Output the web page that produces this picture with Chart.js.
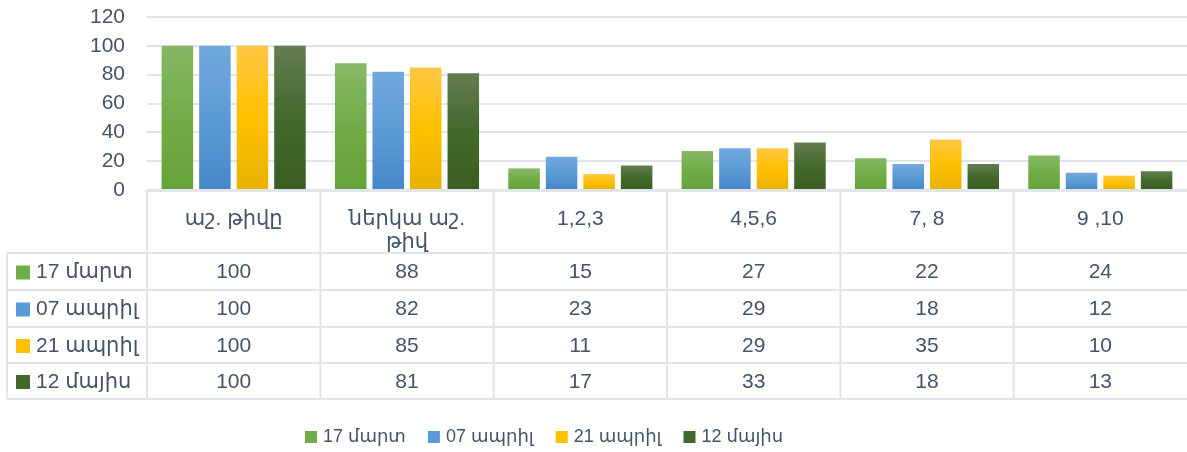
<!DOCTYPE html>
<html>
<head>
<meta charset="utf-8">
<script src="https://cdn.jsdelivr.net/npm/chart.js@4.4.1/dist/chart.umd.min.js"></script>
<style>
  html, body { margin: 0; padding: 0; background: #fff; }
  #wrap { width: 1187px; height: 452px; position: relative; }
</style>
</head>
<body>
<div id="wrap"><canvas id="chart"></canvas></div>
<script>
// categories (header row of the data table)
const categories = [['աշ. թիվը'], ['ներկա աշ.', 'թիվ'], ['1,2,3'], ['4,5,6'], ['7, 8'], ['9 ,10']];
const seriesNames = ['17 մարտ', '07 ապրիլ', '21 ապրիլ', '12 մայիս'];
const mart17 = [100, 88, 15, 27, 22, 24];
const april07 = [100, 82, 23, 29, 18, 12];
const april21 = [100, 85, 11, 29, 35, 10];
const may12 = [100, 81, 17, 33, 18, 13];
const yTicks = [0, 20, 40, 60, 80, 100, 120];

const textColor = '#44546A';
const lineColor = '#E1E4E9';
const fontFamily = '"Liberation Sans", "DejaVu Sans", sans-serif';

// top, middle, bottom of each bar gradient
const palette = [
  ['#86B866', '#70AD47', '#64A23A'],
  ['#72A8DD', '#5B9BD5', '#4687C9'],
  ['#FFC743', '#FFC000', '#E8B200'],
  ['#637D50', '#43682B', '#3A5E21']
];

function barFill(i) {
  return (ctx) => {
    const chart = ctx.chart;
    const area = chart.chartArea;
    if (!area || ctx.raw === undefined) return palette[i][1];
    const top = chart.scales.y.getPixelForValue(ctx.raw);
    const bottom = chart.scales.y.getPixelForValue(0);
    const g = chart.ctx.createLinearGradient(0, top, 0, bottom);
    g.addColorStop(0, palette[i][0]);
    g.addColorStop(0.5, palette[i][1]);
    g.addColorStop(1, palette[i][2]);
    return g;
  };
}

const seriesData = [mart17, april07, april21, may12];

// data table + legend drawn under the plot
const tablePlugin = {
  id: 'dataTable',
  afterDraw(chart) {
    const ctx = chart.ctx;
    const area = chart.chartArea;
    const x = chart.scales.x;
    const n = categories.length;
    const w = (x.right - x.left) / n;
    const top = area.bottom;
    const headerBottom = 253;
    const rowLines = [290, 327, 363, 399];
    const tableLeft = 7;

    ctx.save();
    ctx.strokeStyle = lineColor;
    ctx.lineWidth = 2;
    ctx.beginPath();
    ctx.moveTo(x.left, top + 1); ctx.lineTo(chart.width, top + 1);
    ctx.moveTo(tableLeft, headerBottom); ctx.lineTo(chart.width, headerBottom);
    rowLines.forEach(y => { ctx.moveTo(tableLeft, y); ctx.lineTo(chart.width, y); });
    ctx.moveTo(tableLeft, headerBottom); ctx.lineTo(tableLeft, rowLines[3]);
    for (let i = 0; i < n; i++) {
      const bx = x.left + i * w;
      ctx.moveTo(bx, top); ctx.lineTo(bx, rowLines[3]);
    }
    ctx.stroke();

    ctx.fillStyle = textColor;
    ctx.textAlign = 'center';
    ctx.textBaseline = 'middle';
    ctx.font = '21px ' + fontFamily;
    categories.forEach((lines, i) => {
      const cx = x.getPixelForValue(i);
      lines.forEach((t, k) => ctx.fillText(t, cx, 219 + k * 23));
    });

    const rowTops = [headerBottom].concat(rowLines);
    seriesData.forEach((vals, r) => {
      const cy = (rowTops[r] + rowTops[r + 1]) / 2 + 1;
      ctx.textAlign = 'center';
      ctx.font = '21px ' + fontFamily;
      vals.forEach((v, i) => ctx.fillText(String(v), x.getPixelForValue(i), cy));
      ctx.fillStyle = palette[r][1];
      ctx.fillRect(16, cy - 7, 14, 14);
      ctx.fillStyle = textColor;
      ctx.textAlign = 'left';
      ctx.fillText(seriesNames[r], 36, cy);
    });

    // legend
    ctx.font = '18px ' + fontFamily;
    ctx.textAlign = 'left';
    let lx = 305;
    const ly = 437;
    seriesNames.forEach((name, r) => {
      ctx.fillStyle = palette[r][1];
      ctx.fillRect(lx, ly - 6, 12, 12);
      ctx.fillStyle = textColor;
      ctx.fillText(name, lx + 18, ly);
      lx += 18 + ctx.measureText(name).width + 22;
    });
    ctx.restore();
  }
};

new Chart(document.getElementById('chart'), {
  type: 'bar',
  data: {
    labels: categories.map(c => c.join(' ')),
    datasets: seriesNames.map((name, i) => ({
      label: name,
      data: seriesData[i],
      backgroundColor: barFill(i),
      borderWidth: 0,
      categoryPercentage: 0.866,
      barPercentage: 0.84
    }))
  },
  options: {
    responsive: true,
    maintainAspectRatio: false,
    animation: false,
    layout: { padding: { top: 17, right: 0, bottom: 0, left: 0 } },
    plugins: {
      legend: { display: false },
      tooltip: { enabled: false }
    },
    scales: {
      x: {
        grid: { display: false },
        border: { display: false },
        ticks: { display: false },
        afterFit(scale) {
          scale.height = 452 - 17 - 190 + 17;
          scale.paddingTop = 0;
          scale.paddingBottom = 0;
        }
      },
      y: {
        min: 0,
        max: 120,
        afterBuildTicks(scale) { scale.ticks = yTicks.map(v => ({ value: v })); },
        afterFit(scale) {
          scale.width = 147;
          scale.paddingTop = 0;
          scale.paddingBottom = 0;
        },
        grid: { color: lineColor, lineWidth: 2, drawTicks: false },
        border: { display: false },
        ticks: {
          color: textColor,
          padding: 22,
          autoSkip: false,
          font: { family: fontFamily, size: 21 }
        }
      }
    }
  },
  plugins: [tablePlugin]
});
</script>
</body>
</html>
